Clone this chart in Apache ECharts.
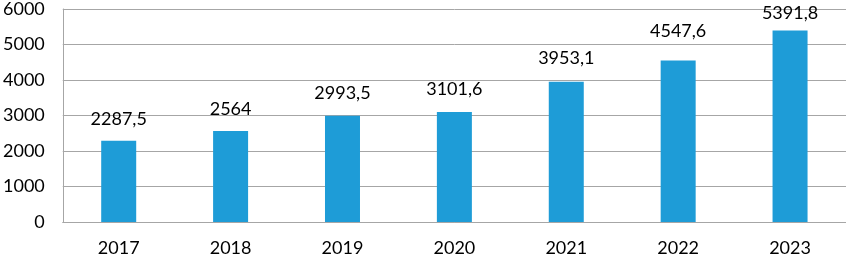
<!DOCTYPE html>
<html>
<head>
<meta charset="utf-8">
<script src="https://cdn.jsdelivr.net/npm/echarts@6/dist/echarts.min.js"></script>
<style>html,body{margin:0;padding:0;background:#fff}#c{width:846px;height:257px}</style>
</head>
<body>
<div id="c"></div>
<script>
var categories = ['2017', '2018', '2019', '2020', '2021', '2022', '2023'];
var values = [2287.5, 2564, 2993.5, 3101.6, 3953.1, 4547.6, 5391.8];
var yTicks = [0, 1000, 2000, 3000, 4000, 5000, 6000];

// label spacing above bars (style only)
var labelGap = [13, 13, 14, 14, 14, 20, 8];

var font = 'Lato, "Open Sans", sans-serif';
var chart = echarts.init(document.getElementById('c'), null, {renderer: 'canvas'});
chart.setOption({
  animation: false,
  grid: {left: 61, right: 0, top: 7, bottom: 33, containLabel: false},
  xAxis: {
    type: 'category',
    data: categories,
    axisLine: {show: true, lineStyle: {color: '#a6a6a6', width: 1}},
    axisTick: {show: false},
    axisLabel: {color: '#000', fontSize: 18, fontFamily: font, margin: 17}
  },
  yAxis: {
    type: 'value',
    min: yTicks[0],
    max: yTicks[yTicks.length - 1],
    interval: 1000,
    axisLine: {show: true, lineStyle: {color: '#a6a6a6', width: 1}},
    axisTick: {show: false},
    splitLine: {show: true, lineStyle: {color: '#a6a6a6', width: 1}},
    axisLabel: {color: '#000', fontSize: 18, fontFamily: font, margin: 18,
      formatter: function (v) { return String(v); }}
  },
  series: [{
    type: 'bar',
    barWidth: 35,
    itemStyle: {color: '#1e9cd7'},
    data: values.map(function (v, i) {
      return {value: v, label: {distance: labelGap[i]}};
    }),
    label: {
      show: true,
      position: 'top',
      color: '#000',
      fontSize: 18,
      fontFamily: font,
      formatter: function (p) { return String(p.value).replace('.', ','); }
    }
  }]
});
</script>
</body>
</html>
